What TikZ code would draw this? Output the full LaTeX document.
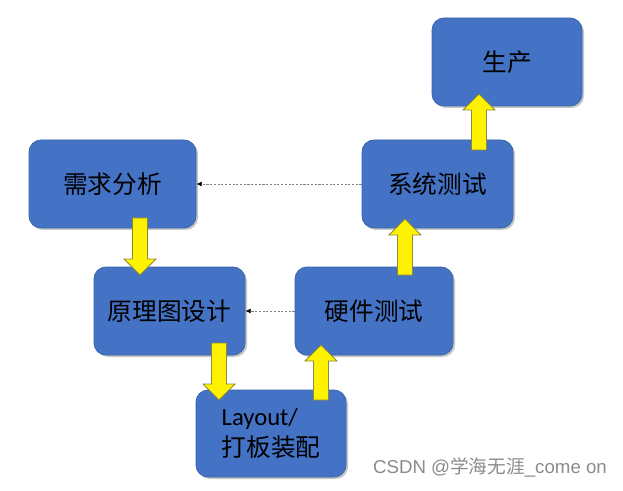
\documentclass[tikz,border=0pt]{standalone}
\usepackage{fontspec}
\setmainfont{Carlito}
\newfontfamily\cjk{Noto Sans CJK SC}
\newfontfamily\wmfont{Liberation Sans}
\usetikzlibrary{calc,shadows,arrows.meta}
\definecolor{boxblue}{HTML}{4472C4}
\definecolor{boxline}{HTML}{3B64AD}
\definecolor{arrline}{HTML}{8A8A3A}
\definecolor{wmgray}{HTML}{8C8C8C}
\tikzset{
  stagebox/.style 2 args={draw=boxline, line width=0.6pt, fill=boxblue,
    rounded corners=9pt, minimum width=#1*0.75pt, minimum height=#2*0.75pt,
    inner sep=0pt, font=\fontsize{18.5}{23}\selectfont\cjk, text=black,
    drop shadow={shadow xshift=1.5pt, shadow yshift=-1.5pt, opacity=0.22, fill=black}},
  yarrow/.style={draw=arrline, line width=0.6pt, fill=yellow, line join=miter},
  backlink/.style={draw=gray, line width=0.5pt, dash pattern=on 1.6pt off 1.2pt,
    -{Latex[length=4pt,width=3.6pt,color=black]}},
}
\newcommand\blockarr[3]{% start coordinate, tip coordinate, direction (1 down, -1 up)
  \draw[yarrow] ($(#1)+(-7.5,0)$) -- ($(#2)+(-7.5,{-16*(#3)})$) -- ($(#2)+(-16,{-16*(#3)})$)
    -- (#2) -- ($(#2)+(16,{-16*(#3)})$) -- ($(#2)+(7.5,{-16*(#3)})$) -- ($(#1)+(7.5,0)$) -- cycle;}
\begin{document}
\begin{tikzpicture}[x=0.75pt, y=-0.75pt]
  \useasboundingbox[fill=white] (0,0) rectangle (623,491);
  % boxes
  \node[stagebox={167}{88}] (a) at (112.5,184) {需求分析};
  \node[stagebox={151}{88}] (b) at (169.5,311) {原理图设计};
  \node[stagebox={150}{87}, align=left] (c) at (271,433.5) {{\setmainfont{Carlito}\rmfamily Layout/}\\打板装配};
  \node[stagebox={158}{88}] (d) at (374,311) {硬件测试};
  \node[stagebox={151}{88}] (e) at (437.5,184) {系统测试};
  \node[stagebox={150}{88}] (f) at (507,62) {生产};
  % block arrow end points
  \coordinate (s1) at (140,218);  \coordinate (t1) at (140,275);
  \coordinate (s2) at (219,343);  \coordinate (t2) at (219,400);
  \coordinate (s3) at (321,400);  \coordinate (t3) at (321,345);
  \coordinate (s4) at (405,275);  \coordinate (t4) at (405,219);
  \coordinate (s5) at (479,150);  \coordinate (t5) at (479,94);
  \blockarr{s1}{t1}{1}
  \blockarr{s2}{t2}{1}
  \blockarr{s3}{t3}{-1}
  \blockarr{s4}{t4}{-1}
  \blockarr{s5}{t5}{-1}
  % dashed back links
  \draw[backlink] (e.west) -- (a.east);
  \draw[backlink] (d.west) -- (b.east);
  % watermark
  \node[text=wmgray, font=\fontsize{14}{16}\selectfont\wmfont, inner sep=0pt] (wm) at (490,467)
    {CSDN @{\cjk 学海无涯}\_come on};
\end{tikzpicture}
\end{document}
